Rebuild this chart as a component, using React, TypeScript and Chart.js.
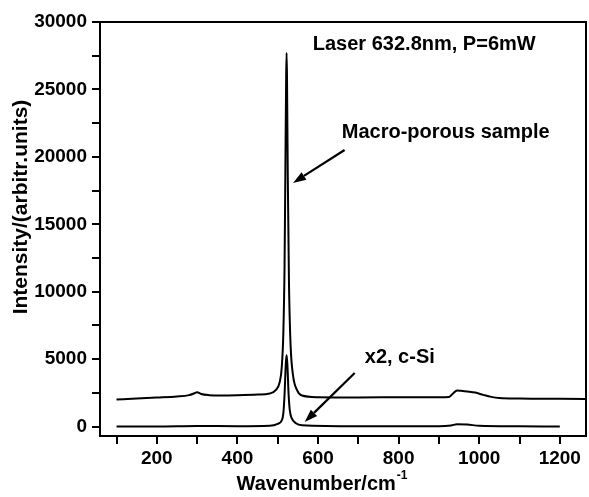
import React, { useEffect, useRef } from "react";
import { Chart, registerables } from "chart.js";

Chart.register(...registerables);

// Macro-porous sample (upper curve)
const porousX = [100, 150, 200, 250, 280, 292, 300, 310, 330, 360, 400, 450, 480, 495, 505, 510, 514, 517, 519, 521, 522, 523, 525, 528, 532, 538, 548, 560, 600, 700, 800, 900, 925, 935, 945, 955, 970, 990, 1010, 1030, 1050, 1100, 1200, 1265];
const porousY = [2000, 2080, 2150, 2230, 2330, 2450, 2550, 2420, 2330, 2300, 2320, 2370, 2450, 2700, 3300, 4400, 7000, 12000, 19000, 26000, 27700, 26000, 18500, 10500, 6000, 3800, 2700, 2300, 2180, 2160, 2170, 2180, 2200, 2450, 2680, 2650, 2600, 2520, 2350, 2200, 2120, 2080, 2060, 2050];

// c-Si reference, x2 (lower curve)
const siX = [100, 200, 300, 400, 480, 500, 510, 514, 517, 520, 522, 524, 527, 530, 535, 545, 560, 700, 900, 930, 945, 970, 1000, 1100, 1200];
const siY = [0, 0, 40, 30, 60, 200, 450, 1000, 2400, 4600, 5300, 4600, 2400, 1200, 600, 250, 100, 30, 30, 80, 170, 150, 60, 20, 0];

const xMin = 59;
const xMax = 1265;
const yMin = -700;
const yMax = 30000;

// tick positions (all get a tick mark) and which get a label
const xTicks = [100, 200, 300, 400, 500, 600, 700, 800, 900, 1000, 1100, 1200];
const xTickLabels = ["", "200", "", "400", "", "600", "", "800", "", "1000", "", "1200"];
const yTicks = [0, 2500, 5000, 7500, 10000, 12500, 15000, 17500, 20000, 22500, 25000, 27500, 30000];
const yTickLabels = ["0", "", "5000", "", "10000", "", "15000", "", "20000", "", "25000", "", "30000"];

const labelTexts = ["Laser 632.8nm, P=6mW", "Macro-porous sample", "x2, c-Si"];
const labelX = [587, 659, 716];
const labelY = [28300, 21770, 5090];

const arrowFromX = [666, 691];
const arrowFromY = [20510, 3975];
const arrowToX = [538, 567];
const arrowToY = [18065, 340];

const FONT = "'Liberation Sans', Arial, sans-serif";

const framePlugin = {
  id: "frameAndNotes",
  afterDraw(chart: any) {
    const { ctx, chartArea, scales } = chart;
    const xs = scales.x;
    const ys = scales.y;
    ctx.save();
    ctx.strokeStyle = "#000";
    ctx.lineWidth = 2;
    ctx.strokeRect(chartArea.left, chartArea.top, chartArea.right - chartArea.left, chartArea.bottom - chartArea.top);

    // annotation texts
    ctx.fillStyle = "#000";
    ctx.font = `bold 20px ${FONT}`;
    ctx.textAlign = "left";
    ctx.textBaseline = "middle";
    labelTexts.forEach((t, i) => {
      ctx.fillText(t, xs.getPixelForValue(labelX[i]), ys.getPixelForValue(labelY[i]));
    });

    // arrows
    for (let i = 0; i < arrowFromX.length; i++) {
      const x1 = xs.getPixelForValue(arrowFromX[i]);
      const y1 = ys.getPixelForValue(arrowFromY[i]);
      const x2 = xs.getPixelForValue(arrowToX[i]);
      const y2 = ys.getPixelForValue(arrowToY[i]);
      const ang = Math.atan2(y2 - y1, x2 - x1);
      const hl = 13;
      const hw = 4.5;
      const bx = x2 - hl * Math.cos(ang);
      const by = y2 - hl * Math.sin(ang);
      ctx.beginPath();
      ctx.lineWidth = 2.2;
      ctx.moveTo(x1, y1);
      ctx.lineTo(bx, by);
      ctx.stroke();
      ctx.beginPath();
      ctx.moveTo(x2, y2);
      ctx.lineTo(bx + hw * Math.sin(ang), by - hw * Math.cos(ang));
      ctx.lineTo(bx - hw * Math.sin(ang), by + hw * Math.cos(ang));
      ctx.closePath();
      ctx.fill();
    }

    // axis titles
    ctx.font = `bold 20px ${FONT}`;
    ctx.textAlign = "left";
    ctx.textBaseline = "alphabetic";
    const xt = "Wavenumber/cm";
    const w = ctx.measureText(xt).width;
    ctx.font = `bold 12px ${FONT}`;
    const sw = ctx.measureText("-1").width;
    const total = w + sw + 1;
    const cx = 322;
    const startX = cx - total / 2;
    ctx.font = `bold 20px ${FONT}`;
    ctx.fillText(xt, startX, 490);
    ctx.font = `bold 12px ${FONT}`;
    ctx.fillText("-1", startX + w + 1, 479);

    ctx.translate(21, 207);
    ctx.rotate(-Math.PI / 2);
    ctx.font = `bold 21px ${FONT}`;
    ctx.textAlign = "center";
    ctx.textBaseline = "middle";
    ctx.fillText("Intensity/(arbitr.units)", 0, 0);
    ctx.restore();
  },
};

export default function App() {
  const ref = useRef<HTMLCanvasElement>(null);
  useEffect(() => {
    const prevMargin = document.body.style.margin;
    document.body.style.margin = "0";
    const ctx = ref.current!.getContext("2d")!;
    const chart = new Chart(ctx, {
      type: "line",
      data: {
        datasets: [
          {
            data: porousX.map((x, i) => ({ x, y: porousY[i] })),
            borderColor: "#000",
            borderWidth: 2,
            pointRadius: 0,
            cubicInterpolationMode: "monotone",
            fill: false,
          },
          {
            data: siX.map((x, i) => ({ x, y: siY[i] })),
            borderColor: "#000",
            borderWidth: 2,
            pointRadius: 0,
            cubicInterpolationMode: "monotone",
            fill: false,
          },
        ],
      },
      options: {
        responsive: false,
        animation: false,
        layout: { padding: { top: 22, right: 3, left: 0, bottom: 0 } },
        plugins: { legend: { display: false }, tooltip: { enabled: false }, title: { display: false } },
        scales: {
          x: {
            type: "linear",
            min: xMin,
            max: xMax,
            afterBuildTicks: (s: any) => {
              s.ticks = xTicks.map((v) => ({ value: v }));
            },
            afterFit: (s: any) => {
              s.height = 61;
            },
            border: { display: true, color: "#000", width: 2 },
            grid: { display: true, drawOnChartArea: false, drawTicks: true, tickLength: 8, color: "#000", lineWidth: 2 },
            ticks: {
              autoSkip: false,
              maxRotation: 0,
              minRotation: 0,
              padding: 3,
              color: "#000",
              font: { family: FONT, size: 19, weight: "bold" },
              callback: (_v: any, i: number) => xTickLabels[i],
            },
          },
          y: {
            type: "linear",
            min: yMin,
            max: yMax,
            afterBuildTicks: (s: any) => {
              s.ticks = yTicks.map((v) => ({ value: v }));
            },
            afterFit: (s: any) => {
              s.width = 100;
            },
            border: { display: true, color: "#000", width: 2 },
            grid: { display: true, drawOnChartArea: false, drawTicks: true, tickLength: 8, color: "#000", lineWidth: 2 },
            ticks: {
              autoSkip: false,
              padding: 5,
              color: "#000",
              font: { family: FONT, size: 19, weight: "bold" },
              callback: (_v: any, i: number) => yTickLabels[i],
            },
          },
        },
      },
      plugins: [framePlugin],
    });
    return () => {
      chart.destroy();
      document.body.style.margin = prevMargin;
    };
  }, []);
  return (
    <div style={{ position: "fixed", left: 0, top: 0, width: 589, height: 497, background: "#fff" }}>
      <canvas ref={ref} width={589} height={497} style={{ width: 589, height: 497, display: "block" }} />
    </div>
  );
}
